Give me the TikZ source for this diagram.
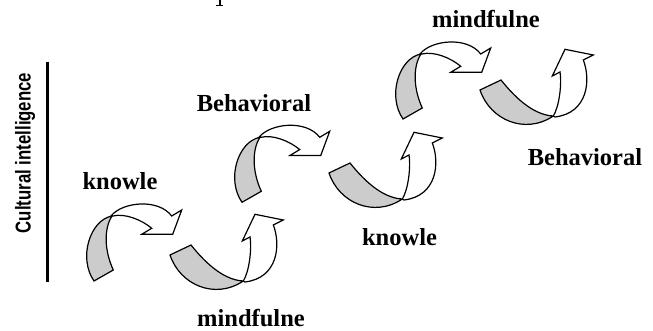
\documentclass[tikz,border=0pt]{standalone}
\usepackage{fontspec}
\setmainfont{Liberation Serif}
\newfontfamily\narrowsans{Liberation Sans}
\begin{document}
\begin{tikzpicture}[x=1pt,y=-1pt]
\tikzset{
  band/.style={draw=black, line width=1.2pt, line join=miter},
  backband/.style={band, fill=gray!40},
  frontband/.style={band, fill=white},
  lbl/.style={font=\bfseries\fontsize{24.5}{24.5}\selectfont, inner sep=0pt, anchor=base},
  axislbl/.style={font=\narrowsans\bfseries\fontsize{21.5}{21.5}\selectfont, inner sep=0pt, rotate=90},
  curveA/.pic={
    \filldraw[backband] (94,281) -- (113.3,270)
      .. controls (104,250) and (104,228) .. (112,216)
      .. controls (90,220) and (78,258) .. (94,281) -- cycle;
    \filldraw[frontband] (111,216)
      .. controls (122,202) and (158,198) .. (171.7,216)
      -- (181.7,210) -- (172.7,234.3) -- (141.7,234.3) -- (151.7,228.3)
      .. controls (142,220) and (125,213) .. (113,216) -- cycle;
  },
  curveB/.pic={
    \filldraw[backband] (170,255) -- (191,245)
      .. controls (203,260) and (222,280) .. (243.3,281)
      .. controls (215,300) and (180,285) .. (170,255) -- cycle;
    \filldraw[frontband] (243.3,281)
      .. controls (249,272) and (252,250) .. (250,237)
      -- (242.3,241) -- (255,214.3) -- (283.3,220) -- (273.3,225)
      .. controls (281,245) and (278,278) .. (245,282) -- cycle;
  }
}
\useasboundingbox (0,0) rectangle (653,331);
% axis
\node[axislbl] (cq) at (25,153) {\scalebox{0.78}[1]{Cultural intelligence}};
\coordinate (axtop) at (47,61.7);
\coordinate (axbot) at (47,281.7);
\draw[line width=3pt] (axtop) -- (axbot);
% fragment at top
\draw[line width=2pt] (219.5,0) -- (219.5,5.5);
\draw[line width=1pt] (216,6) -- (223,6);
% curved arrows
\pic at (0,0) {curveA};
\pic at (148,-78.7) {curveA};
\pic at (309,-162) {curveA};
\pic at (0,0) {curveB};
\pic at (159,-82) {curveB};
\pic at (310,-165) {curveB};
% labels
\node[lbl] (k1) at (120,190) {knowle};
\node[lbl] (b1) at (254,111.7) {Behavioral};
\node[lbl] (m1) at (251,326.5) {mindfulne};
\node[lbl] (k2) at (399.5,245) {knowle};
\node[lbl] (m2) at (486,27.7) {mindfulne};
\node[lbl] (b2) at (585,165.7) {Behavioral};
\end{tikzpicture}
\end{document}
